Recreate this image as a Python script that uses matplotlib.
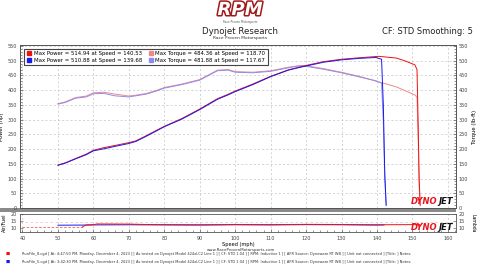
#!/usr/bin/env python3
"""Dynojet dyno sheet: power / torque vs speed for two runs, with air/fuel strip."""

import matplotlib
matplotlib.use("Agg")
import matplotlib.pyplot as plt
import matplotlib.patheffects as pe
from matplotlib.lines import Line2D
from matplotlib.patches import Rectangle
from matplotlib.ticker import MultipleLocator

# --- run 8 (red) ---
red_speed = [50, 52, 55, 58, 60, 63, 66, 70, 72, 75, 78, 80, 85, 90, 95, 98, 100, 105, 110,
             115, 118.7, 120, 125, 130, 135, 140.5, 143, 145.5, 148, 150.7, 151.3, 151.6, 151.9, 152.2]
red_power = [146, 153, 168, 183, 196, 205, 212, 222, 228, 246, 265, 277, 304, 336, 371, 386, 397, 421, 447,
             469, 480, 484, 497, 505, 510, 515, 512, 509, 499, 486, 470, 300, 100, 10]
red_torque = [354, 360, 375, 380, 391, 393, 387, 380, 383, 389, 400, 409, 421, 436, 468, 470, 463, 461, 466,
              478, 484, 483, 473, 461, 447, 428, 420, 411, 398, 384, 376, 250, 80, 8]

# --- run 5 (blue) ---
blue_speed = [50, 52, 55, 58, 60, 63, 66, 70, 72, 75, 78, 80, 85, 90, 95, 98, 100, 105, 110,
              115, 117.7, 120, 125, 130, 135, 139.7, 141.3, 141.8, 142.2, 142.6]
blue_power = [145, 152, 167, 181, 194, 201, 209, 219, 226, 244, 263, 276, 302, 334, 369, 384, 395, 419, 446,
              468, 476, 482, 495, 503, 508, 511, 505, 350, 120, 10]
blue_torque = [353, 358, 373, 377, 388, 389, 381, 377, 381, 387, 398, 407, 419, 434, 466, 468, 461, 459, 464,
               476, 482, 481, 471, 459, 445, 432, 424, 290, 100, 8]

# --- air / fuel ---
afr_pre_speed = [40, 50, 57]
afr_pre = [11.0, 11.0, 11.0]
afr_red_speed = [57, 58, 60, 61, 70, 75, 80, 90, 100, 110, 120, 130, 140, 150, 152]
afr_red = [11.0, 12.2, 12.3, 12.9, 12.8, 12.5, 12.4, 12.3, 12.5, 12.4, 12.6, 12.5, 12.3, 12.4, 12.4]
afr_blue_speed = [50, 58, 60, 70, 80, 90, 100, 110, 120, 130, 140, 142]
afr_blue = [12.0, 12.1, 12.2, 12.3, 12.2, 12.1, 12.3, 12.2, 12.4, 12.3, 12.1, 12.2]

legend_labels = [
    "Max Power = 514.94 at Speed = 140.53",
    "Max Power = 510.88 at Speed = 139.68",
    "Max Torque = 484.36 at Speed = 118.70",
    "Max Torque = 481.88 at Speed = 117.67",
]
run_lines = [
    "RunFile_8.cgd [ At: 4:47:50 PM, Monday, December 4, 2023 ] [ As tested on Dynojet Model 424xLC2 Line 1 ] "
    "[ CF: STD 1.04 ] [ RPM: Inductive 1 ] [ AFR Source: Dynoware RT WB ] [ Unit not connected ] [Title: ] Notes:",
    "RunFile_5.cgd [ At: 3:42:30 PM, Monday, December 4, 2023 ] [ As tested on Dynojet Model 424xLC2 Line 1 ] "
    "[ CF: STD 1.04 ] [ RPM: Inductive 1 ] [ AFR Source: Dynoware RT WB ] [ Unit not connected ] [Title: ] Notes:",
]

RED, BLUE = "#f01010", "#1818f0"
RED_T, BLUE_T = "#f08888", "#8c8cf0"

W, H = 480, 270
plt.rcParams["font.family"] = ["DejaVu Sans"]
fig = plt.figure(figsize=(4.8, 2.7), dpi=100)
fig.patch.set_facecolor("white")


def box(x0, y0, x1, y1):
    return [x0 / W, 1 - y1 / H, (x1 - x0) / W, (y1 - y0) / H]


def fx(x):
    return x / W


def fy(y):
    return 1 - y / H


ax = fig.add_axes(box(20, 45, 456, 208))
axl = fig.add_axes(box(20, 214, 456, 232), sharex=ax)

xlo, xhi = 39.3, 162.3
ax.set_xlim(xlo, xhi)
ax.set_ylim(0, 553.4)

ax.plot(red_speed, red_torque, color=RED_T, lw=0.7)
ax.plot(blue_speed, blue_torque, color=BLUE_T, lw=0.7)
ax.plot(red_speed, red_power, color=RED, lw=0.7)
ax.plot(blue_speed, blue_power, color=BLUE, lw=0.7)

ax.xaxis.set_major_locator(MultipleLocator(10))
ax.xaxis.set_minor_locator(MultipleLocator(2))
ax.yaxis.set_major_locator(MultipleLocator(50))
ax.yaxis.set_minor_locator(MultipleLocator(10))
ax.grid(True, which="major", ls=(0, (3, 3)), lw=0.5, color="#c4c4c4")
ax.set_axisbelow(True)
ax.tick_params(axis="x", which="both", bottom=False, labelbottom=False)
ax.tick_params(axis="y", which="both", direction="in", labelsize=3.5, pad=2,
               length=2, width=0.4, colors="#444444")
ax.tick_params(axis="y", which="minor", length=1.2)
ax.set_ylabel("Power (hp)", fontsize=3.8, labelpad=3)

axr = ax.twinx()
axr.set_ylim(ax.get_ylim())
axr.yaxis.set_major_locator(MultipleLocator(50))
axr.yaxis.set_minor_locator(MultipleLocator(10))
axr.tick_params(axis="y", which="both", direction="in", labelsize=3.5, pad=2,
                length=2, width=0.4, colors="#444444")
axr.tick_params(axis="y", which="minor", length=1.2)
axr.set_ylabel("Torque (lb-ft)", fontsize=3.8, labelpad=3)

for a in (ax, axr, axl):
    for s in a.spines.values():
        s.set_color("#555555")
        s.set_linewidth(0.6)

# legend box
handles = [
    Line2D([], [], ls="", marker="s", ms=2.6, color=RED),
    Line2D([], [], ls="", marker="s", ms=2.6, color=BLUE),
    Line2D([], [], ls="", marker="s", ms=2.6, color=RED_T),
    Line2D([], [], ls="", marker="s", ms=2.6, color=BLUE_T),
]
leg = ax.legend(handles, legend_labels, ncol=2, loc="upper left", fontsize=3.9,
                frameon=True, fancybox=False, borderpad=0.4, handlelength=0.8,
                handletextpad=0.5, columnspacing=1.2, labelspacing=0.35,
                bbox_to_anchor=(0.004, 0.993))
leg.get_frame().set_edgecolor("#444444")
leg.get_frame().set_linewidth(0.8)
leg.get_frame().set_alpha(1.0)

# lower air/fuel strip
axl.set_ylim(7.14, 20)
axl.axhline(14.6, color="#f0c8c8", lw=0.6, ls=(0, (3, 3)))
axl.plot(afr_pre_speed, afr_pre, color="#e06060", lw=0.6, ls=(0, (3, 2)))
axl.plot(afr_blue_speed, afr_blue, color=BLUE, lw=0.7)
axl.plot(afr_red_speed, afr_red, color=RED, lw=0.7)
axl.yaxis.set_major_locator(MultipleLocator(5))
axl.grid(True, axis="x", which="major", ls=(0, (3, 3)), lw=0.5, color="#c4c4c4")
axl.set_axisbelow(True)
axl.tick_params(axis="x", which="both", direction="in", labelsize=3.5, pad=3,
                length=2.2, width=0.4, colors="#444444", top=False)
axl.tick_params(axis="x", which="minor", length=1.4)
axl.tick_params(axis="y", which="both", direction="in", labelsize=3.5, pad=2,
                length=2, width=0.4, colors="#444444", right=True, labelright=True)
axl.set_ylabel("Air/Fuel", fontsize=3.5, labelpad=3)
axl.set_xlabel("Speed (mph)", fontsize=3.6, labelpad=0.5)
axl.text(1.04, 0.5, "Lambda", transform=axl.transAxes, rotation=270,
         fontsize=3.3, va="center", ha="center")

# gray band between the plots
fig.patches.append(Rectangle((fx(0), fy(212)), fx(456), 4.5 / H, transform=fig.transFigure,
                             facecolor="#8a8a8a", edgecolor="none", zorder=-1))


def dynojet(y):
    fig.text(fx(437), fy(y), "DYNO", color="#e8141e", fontsize=6.0, fontweight="bold",
             style="italic", va="center", ha="right")
    fig.text(fx(438), fy(y), "JET", color="#111111", fontsize=6.0, fontweight="bold",
             style="italic", va="center", ha="left")


dynojet(202)
dynojet(228)

# header
fig.text(0.5, fy(10), "RPM", ha="center", va="center", fontsize=13, fontweight="bold",
         style="italic", color="white",
         path_effects=[pe.Stroke(linewidth=2.2, foreground="#a01818"), pe.Normal()])
fig.text(0.5, fy(21.5), "Race Proven Motorsports", ha="center", va="center", fontsize=2.0,
         color="#555555")
fig.text(0.5, fy(31), "Dynojet Research", ha="center", va="center", fontsize=6.2, color="#222222")
fig.text(0.5, fy(38), "Race Proven Motorsports", ha="center", va="center", fontsize=3.2,
         color="#333333")
fig.text(fx(473), fy(31), "CF: STD Smoothing: 5", ha="right", va="center", fontsize=6,
         color="#222222")

# run file info
fig.text(fx(207), fy(250.5), "www.RaceProvenMotorsports.com", fontsize=2.9, va="center",
         color="#333333")
for y, c, line in zip((254, 262), (RED, BLUE), run_lines):
    fig.text(fx(6), fy(y), "\u25a0", color=c, fontsize=3.2, va="center")
    fig.text(fx(22), fy(y), line, fontsize=2.6, va="center", color="#333333")

fig.savefig("out.png", dpi=100, facecolor="white")
